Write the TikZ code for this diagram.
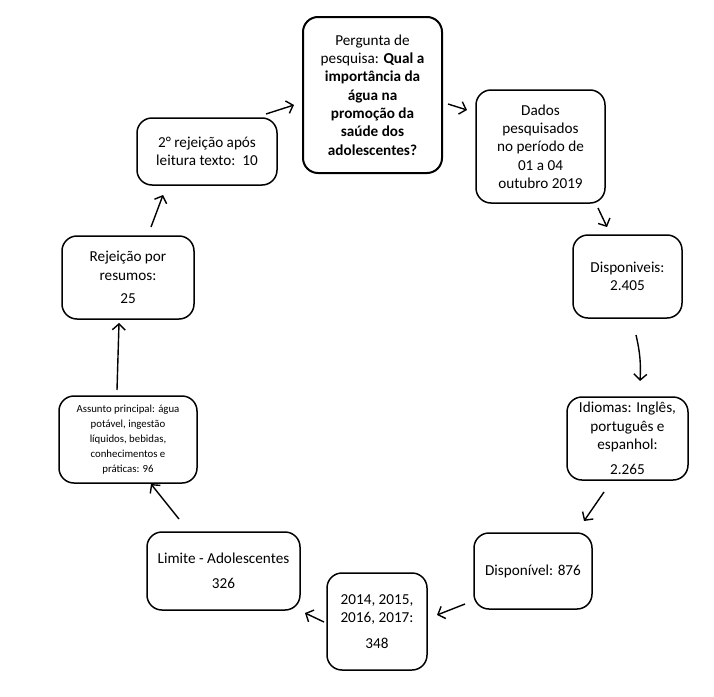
\documentclass[tikz,border=0pt]{standalone}
\usepackage{fontspec}
\setmainfont{Carlito}
\usetikzlibrary{arrows.meta}
\begin{document}
\begin{tikzpicture}[x=1pt,y=-1pt,
  box/.style={draw, line width=1.5pt, rounded corners=15pt, align=center, inner sep=0pt, outer sep=0pt,
    font=\fontsize{15.2}{18.3}\selectfont},
  smallbox/.style={box, font=\fontsize{10.8}{15}\selectfont},
  arr/.style={line width=1.4pt, -{Straight Barb[length=6pt,width=13pt,line width=1.4pt]}}
]
\useasboundingbox (0,0) rectangle (714,696);
\fill[white] (0,0) rectangle (714,696);

\node[box, line width=2pt, minimum width=139pt, minimum height=156pt] (q) at (372.5,95)
  {Pergunta de\\pesquisa: \textbf{Qual a}\\\textbf{importância da}\\\textbf{água na}\\\textbf{promoção da}\\\textbf{saúde dos}\\\textbf{adolescentes?}};
\node[box, minimum width=129pt, minimum height=113pt] (dados) at (540.5,146.5)
  {Dados\\pesquisados\\no período de\\01 a 04\\outubro 2019};
\node[box, minimum width=109pt, minimum height=83pt] (disp) at (627.5,276.5)
  {Disponiveis:\\2.405};
\node[box, minimum width=121pt, minimum height=83pt] (idi) at (627.5,438.5)
  {Idiomas: Inglês,\\português e\\espanhol:\\[7pt]2.265};
\node[box, minimum width=118pt, minimum height=76pt] (d876) at (533,571)
  {Disponível: 876};
\node[box, minimum width=100pt, minimum height=97pt] (anos) at (377,621.5)
  {2014, 2015,\\2016, 2017:\\[7pt]348};
\node[box, minimum width=153pt, minimum height=78pt] (lim) at (223.5,571)
  {Limite - Adolescentes\\[7pt]326};
\node[smallbox, minimum width=138pt, minimum height=87pt] (ass) at (128,439.5)
  {Assunto principal: água\\potável, ingestão\\líquidos, bebidas,\\conhecimentos e\\práticas: 96};
\node[box, minimum width=132pt, minimum height=83pt] (rej) at (128,277.5)
  {Rejeição por\\resumos:\\[5pt]25};
\node[box, minimum width=140pt, minimum height=67pt] (rej2) at (207,151.5)
  {2° rejeição após\\leitura texto:~~10};

% arrow end points
\coordinate (a1s) at (266,114); \coordinate (a1e) at (294,105);
\coordinate (a2s) at (448,104); \coordinate (a2e) at (467,110);
\coordinate (a3s) at (598,208); \coordinate (a3e) at (607,227);
\coordinate (a4s) at (636,335); \coordinate (a4e) at (640,381);
\coordinate (a5s) at (604,492); \coordinate (a5e) at (584,521);
\coordinate (a6s) at (465,604); \coordinate (a6e) at (437,615);
\coordinate (a7s) at (324,622); \coordinate (a7e) at (305,613);
\coordinate (a8s) at (179,519); \coordinate (a8e) at (151,484);
\coordinate (a9s) at (117,390); \coordinate (a9e) at (119,323);
\coordinate (a10s) at (151,227); \coordinate (a10e) at (163,195);

\draw[arr] (a1s) -- (a1e);
\draw[arr] (a2s) -- (a2e);
\draw[arr] (a3s) -- (a3e);
\draw[arr] (a4s) to[bend left=8] (a4e);
\draw[arr] (a5s) -- (a5e);
\draw[arr] (a6s) -- (a6e);
\draw[arr] (a7s) -- (a7e);
\draw[arr] (a8s) -- (a8e);
\draw[arr] (a9s) -- (a9e);
\draw[arr] (a10s) -- (a10e);
\end{tikzpicture}
\end{document}
